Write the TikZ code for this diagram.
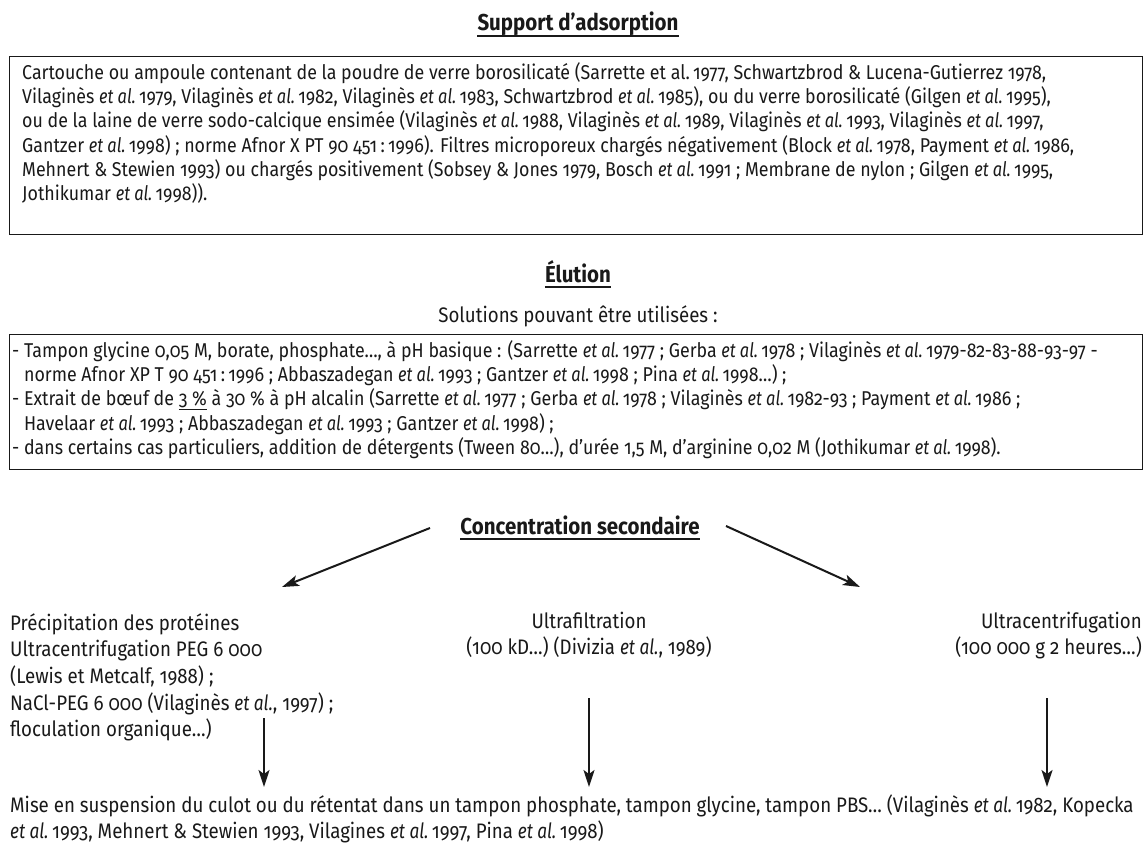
\documentclass[tikz,border=0pt]{standalone}
\usepackage{fontspec}
\setmainfont{Fira Sans}[Numbers={OldStyle,Proportional}, FakeStretch=0.89,
  ItalicFeatures={FakeStretch=0.82}]
\usetikzlibrary{arrows.meta}
\definecolor{ink}{gray}{0.1}
\newcommand\etal{\textit{et al.}}

\begin{document}
\begin{tikzpicture}[x=1pt,y=-1pt,
  body/.style={inner sep=0pt, text=ink, font=\fontsize{20}{24.3}\selectfont},
  loose/.style={inner sep=0pt, text=ink, font=\fontsize{21}{26.7}\selectfont},
  heading/.style={inner sep=0pt, text=ink, font=\fontsize{23}{26.7}\selectfont\bfseries, anchor=base},
  frame/.style={draw=ink, line width=1.3pt, inner sep=0pt, anchor=north west, minimum width=1133pt},
  uline/.style={draw=ink, line width=1.2pt},
  flow/.style={draw=ink, line width=2pt, -{Stealth[length=17pt,width=11pt,inset=4pt]}},
]
\useasboundingbox (0,0) rectangle (1146,845);
\fill[white] (0,0) rectangle (1146,845);

% --- adsorption support ---
\node[heading] (t1) at (578,31) {Support d’adsorption};
\draw[uline] ([yshift=-5pt]t1.base west) -- ([yshift=-5pt]t1.base east);

\node[frame, minimum height=178pt] (box1) at (9,56) {};
\node[body, align=left, anchor=north west] (box1txt) at (22,62) {\strut Cartouche ou ampoule contenant de la poudre de verre borosilicaté (Sarrette et al.\,1977, Schwartzbrod \& Lucena-Gutierrez 1978,\\
Vilaginès \etal\,1979, Vilaginès \etal\,1982, Vilaginès \etal\,1983, Schwartzbrod \etal\,1985), ou du verre borosilicaté (Gilgen \etal\,1995),\\
ou de la laine de verre sodo-calcique ensimée (Vilaginès \etal\,1988, Vilaginès \etal\,1989, Vilaginès \etal\,1993, Vilaginès \etal\,1997,\\
Gantzer \etal\,1998) ; norme Afnor X PT 90 451\,:\,1996). Filtres microporeux chargés négativement (Block \etal\,1978, Payment \etal\,1986,\\
Mehnert \& Stewien 1993) ou chargés positivement (Sobsey \& Jones 1979, Bosch \etal\,1991 ; Membrane de nylon ; Gilgen \etal\,1995,\\
Jothikumar \etal\,1998)).};

% --- elution ---
\node[heading] (t2) at (578,282) {Élution};
\draw[uline] ([yshift=-5pt]t2.base west) -- ([yshift=-5pt]t2.base east);
\node[loose, anchor=base] (sol) at (578,322) {Solutions pouvant être utilisées :};

\node[frame, minimum height=135pt] (box2) at (9,334) {};
\node[body, align=left, anchor=north west] (box2txt) at (12,340) {\strut - Tampon glycine 0,05 M, borate, phosphate…, à pH basique : (Sarrette \etal\,1977 ; Gerba \etal\,1978 ; Vilaginès \etal\,1979-82-83-88-93-97 -\\
\hphantom{- }norme Afnor XP T 90 451\,:\,1996 ; Abbaszadegan \etal\,1993 ; Gantzer \etal\,1998 ; Pina \etal\,1998…) ;\\
- Extrait de bœuf de \underline{3 \%} à 30 \% à pH alcalin (Sarrette \etal\,1977 ; Gerba \etal\,1978 ; Vilaginès \etal\,1982-93 ; Payment \etal\,1986 ;\\
\hphantom{- }Havelaar \etal\,1993 ; Abbaszadegan \etal\,1993 ; Gantzer \etal\,1998) ;\\
- dans certains cas particuliers, addition de détergents (Tween 80…), d’urée 1,5 M, d’arginine 0,02 M (Jothikumar \etal\,1998).};

% --- secondary concentration ---
\node[heading] (t3) at (580,534) {Concentration secondaire};
\draw[uline] ([yshift=-5pt]t3.base west) -- ([yshift=-5pt]t3.base east);

\node[loose, align=left, anchor=north west] (prec) at (10,611.3) {\strut Précipitation des protéines\\
Ultracentrifugation PEG 6 000\\
(Lewis et Metcalf, 1988) ;\\
NaCl-PEG 6 000 (Vilaginès \etal, 1997) ;\\
floculation organique…)};
\node[loose, align=center, anchor=north] (ultf) at (589,609.3) {\strut Ultrafiltration\\(100 kD…) (Divizia \etal, 1989)};
\node[loose, align=right, anchor=north east] (ultc) at (1142,609.3) {\strut Ultracentrifugation\\(100 000 g 2 heures…)};

\node[loose, align=left, anchor=north west] (susp) at (10,793.3) {\strut Mise en suspension du culot ou du rétentat dans un tampon phosphate, tampon glycine, tampon PBS… (Vilaginès \etal\,1982, Kopecka\\
\etal\,1993, Mehnert \& Stewien 1993, Vilagines \etal\,1997, Pina \etal\,1998)};

% arrows
\coordinate (aL0) at (430,528);
\coordinate (aL1) at (282,587);
\coordinate (aR0) at (726,526);
\coordinate (aR1) at (860,587);
\draw[flow] (aL0) -- (aL1);
\draw[flow] (aR0) -- (aR1);

\coordinate (v1a) at (264,718);
\coordinate (v1b) at (264,787);
\coordinate (v2a) at (589,698);
\coordinate (v2b) at (589,787);
\coordinate (v3a) at (1047,698);
\coordinate (v3b) at (1047,787);
\draw[flow] (v1a) -- (v1b);
\draw[flow] (v2a) -- (v2b);
\draw[flow] (v3a) -- (v3b);
\end{tikzpicture}
\end{document}
